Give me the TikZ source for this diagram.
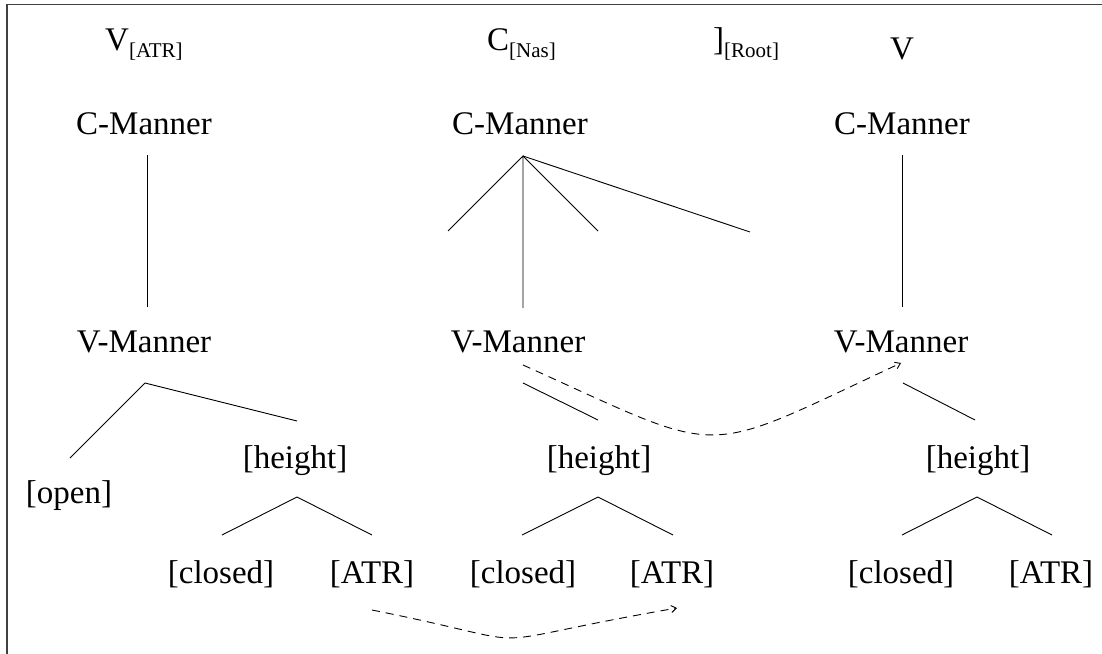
\documentclass[tikz,border=0pt]{standalone}
\usepackage{fontspec}
\setmainfont{Liberation Serif}
\usetikzlibrary{arrows.meta}
\newcommand{\subx}[1]{\raisebox{-7pt}{\fontsize{21}{21}\selectfont #1}}
\begin{document}
\begin{tikzpicture}[x=1pt,y=-1pt,
  lbl/.style={anchor=base,inner sep=0pt,font=\fontsize{33}{36}\selectfont},
  lblw/.style={anchor=base west,inner sep=0pt,font=\fontsize{33}{36}\selectfont},
  br/.style={line width=0.9pt},
  mv/.style={line width=0.9pt,dash pattern=on 8pt off 6pt,-{Straight Barb[length=5pt,width=7pt]}},
  frame/.style={line width=1.6pt,draw=black!75}]
\useasboundingbox (0,0) rectangle (1102,653);
\draw[frame] (7,4.5) rectangle (1300,800);

% top row
\node[lblw] (vatr) at (105,50) {V\subx{[ATR]}};
\node[lblw] (cnas) at (487,50) {C\subx{[Nas]}};
\node[lblw] (root) at (713,50) {]\subx{[Root]}};
\node[lbl] (vr) at (902,59) {V};

% C-Manner row
\node[lbl] (cm1) at (144,134) {C-Manner};
\node[lbl] (cm2) at (520,134) {C-Manner};
\node[lbl] (cm3) at (902,134) {C-Manner};

% V-Manner row
\node[lbl] (vm1) at (144,352) {V-Manner};
\node[lbl] (vm2) at (518,352) {V-Manner};
\node[lbl] (vm3) at (901,352) {V-Manner};

% height row
\node[lbl] (open) at (69,503) {[open]};
\node[lbl] (h1) at (295,468) {[height]};
\node[lbl] (h2) at (599,468) {[height]};
\node[lbl] (h3) at (978,468) {[height]};

% bottom row
\node[lbl] (cl1) at (221,583) {[closed]};
\node[lbl] (at1) at (372,583) {[ATR]};
\node[lbl] (cl2) at (523,583) {[closed]};
\node[lbl] (at2) at (672,583) {[ATR]};
\node[lbl] (cl3) at (901,583) {[closed]};
\node[lbl] (at3) at (1051,583) {[ATR]};

% line end points
\coordinate (a1t) at (147,155); \coordinate (a1b) at (147,307);
\coordinate (a2) at (523,156);
\coordinate (a2a) at (448,231); \coordinate (a2b) at (523,308);
\coordinate (a2c) at (598,231); \coordinate (a2d) at (750,232);
\coordinate (a3t) at (902,155); \coordinate (a3b) at (902,307);
\coordinate (b1) at (145,383); \coordinate (b1a) at (70,458); \coordinate (b1b) at (297,421);
\coordinate (c1) at (297,497); \coordinate (c1a) at (222,535); \coordinate (c1b) at (372,535);
\coordinate (b2a) at (523,383); \coordinate (b2b) at (598,420);
\coordinate (c2) at (598,497); \coordinate (c2a) at (522,535); \coordinate (c2b) at (673,535);
\coordinate (b3a) at (903,383); \coordinate (b3b) at (975,420);
\coordinate (c3) at (977,497); \coordinate (c3a) at (902,535); \coordinate (c3b) at (1052,535);
\coordinate (m1s) at (523,365); \coordinate (m1e) at (901,363);
\coordinate (m2s) at (372,610); \coordinate (m2e) at (677,608);

% branches
\draw[br] (a1t) -- (a1b);
\draw[br] (a2a) -- (a2) -- (a2b);
\draw[br] (a2) -- (a2c);
\draw[br] (a2) -- (a2d);
\draw[br] (a3t) -- (a3b);
\draw[br] (b1a) -- (b1) -- (b1b);
\draw[br] (c1a) -- (c1) -- (c1b);
\draw[br] (b2a) -- (b2b);
\draw[br] (c2a) -- (c2) -- (c2b);
\draw[br] (b3a) -- (b3b);
\draw[br] (c3a) -- (c3) -- (c3b);

% spreading arrows
\draw[mv] (m1s) .. controls (730,458) and (695,459) .. (m1e);
\draw[mv] (m2s) .. controls (562,648) and (453,647) .. (m2e);
\end{tikzpicture}
\end{document}
